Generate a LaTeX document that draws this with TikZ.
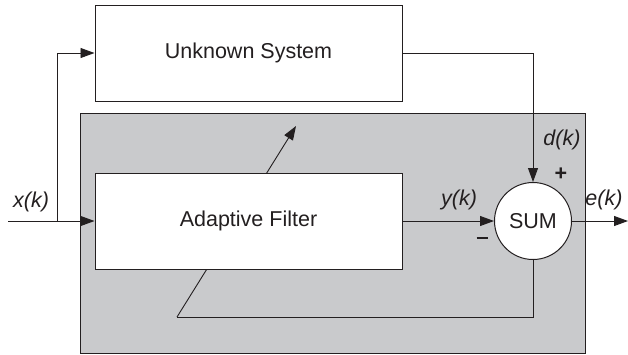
\documentclass[tikz,border=0pt]{standalone}
\usepackage{fontspec}
\setmainfont{Liberation Sans}
\usetikzlibrary{arrows.meta}
\definecolor{panelgray}{RGB}{201,202,204}
\definecolor{linegray}{RGB}{35,31,32}
\begin{document}
\begin{tikzpicture}[x=1pt,y=-1pt,
  every node/.style={font=\fontsize{21.5}{25}\selectfont, text=linegray},
  blockbox/.style={draw=linegray, line width=1pt, fill=white, minimum width=307pt, minimum height=96pt, inner sep=0pt},
  sumcircle/.style={draw=linegray, line width=1pt, fill=white, circle, minimum size=77pt, inner sep=0pt},
  conn/.style={draw=linegray, line width=0.9pt},
  arr/.style={conn, -{Triangle[length=14pt,width=10pt]}},
  lbl/.style={font=\fontsize{21.5}{25}\selectfont\itshape}]
\useasboundingbox (0,0) rectangle (628,354);
\node[draw=linegray, line width=1pt, fill=panelgray, minimum width=505pt, minimum height=240pt, inner sep=0pt] (panel) at (332.5,233) {};
\coordinate (fbstart) at (177,317);
\coordinate (fbend) at (296,126);
\draw[arr] (fbstart) -- (fbend);
\node[blockbox] (unk) at (248.5,53) {Unknown System};
\node[blockbox] (af) at (248.5,221) {Adaptive Filter};
\node[sumcircle] (sum) at (533,221) {SUM};
\coordinate (in) at (8,221);
\coordinate (br) at (57,221);
\coordinate (out) at (628,221);
\draw[conn] (in) -- (br);
\draw[arr] (br) -- (af.west);
\draw[arr] (br) |- (unk.west);
\draw[arr] (unk.east) -| (sum.north);
\draw[arr] (af.east) -- (sum.west);
\draw[arr] (sum.east) -- (out);
\draw[conn] (sum.south) |- (fbstart);
\node[lbl] (xk) at (31,202) {x(k)};
\node[lbl] (yk) at (459,200) {y(k)};
\node[lbl] (dk) at (562,140) {d(k)};
\node[lbl] (ek) at (604,200) {e(k)};
\node[font=\fontsize{21.5}{25}\selectfont\bfseries] (plus) at (561,174) {+};
\node (minus) at (482,238) {\rule{11pt}{1.2pt}};
\end{tikzpicture}
\end{document}
